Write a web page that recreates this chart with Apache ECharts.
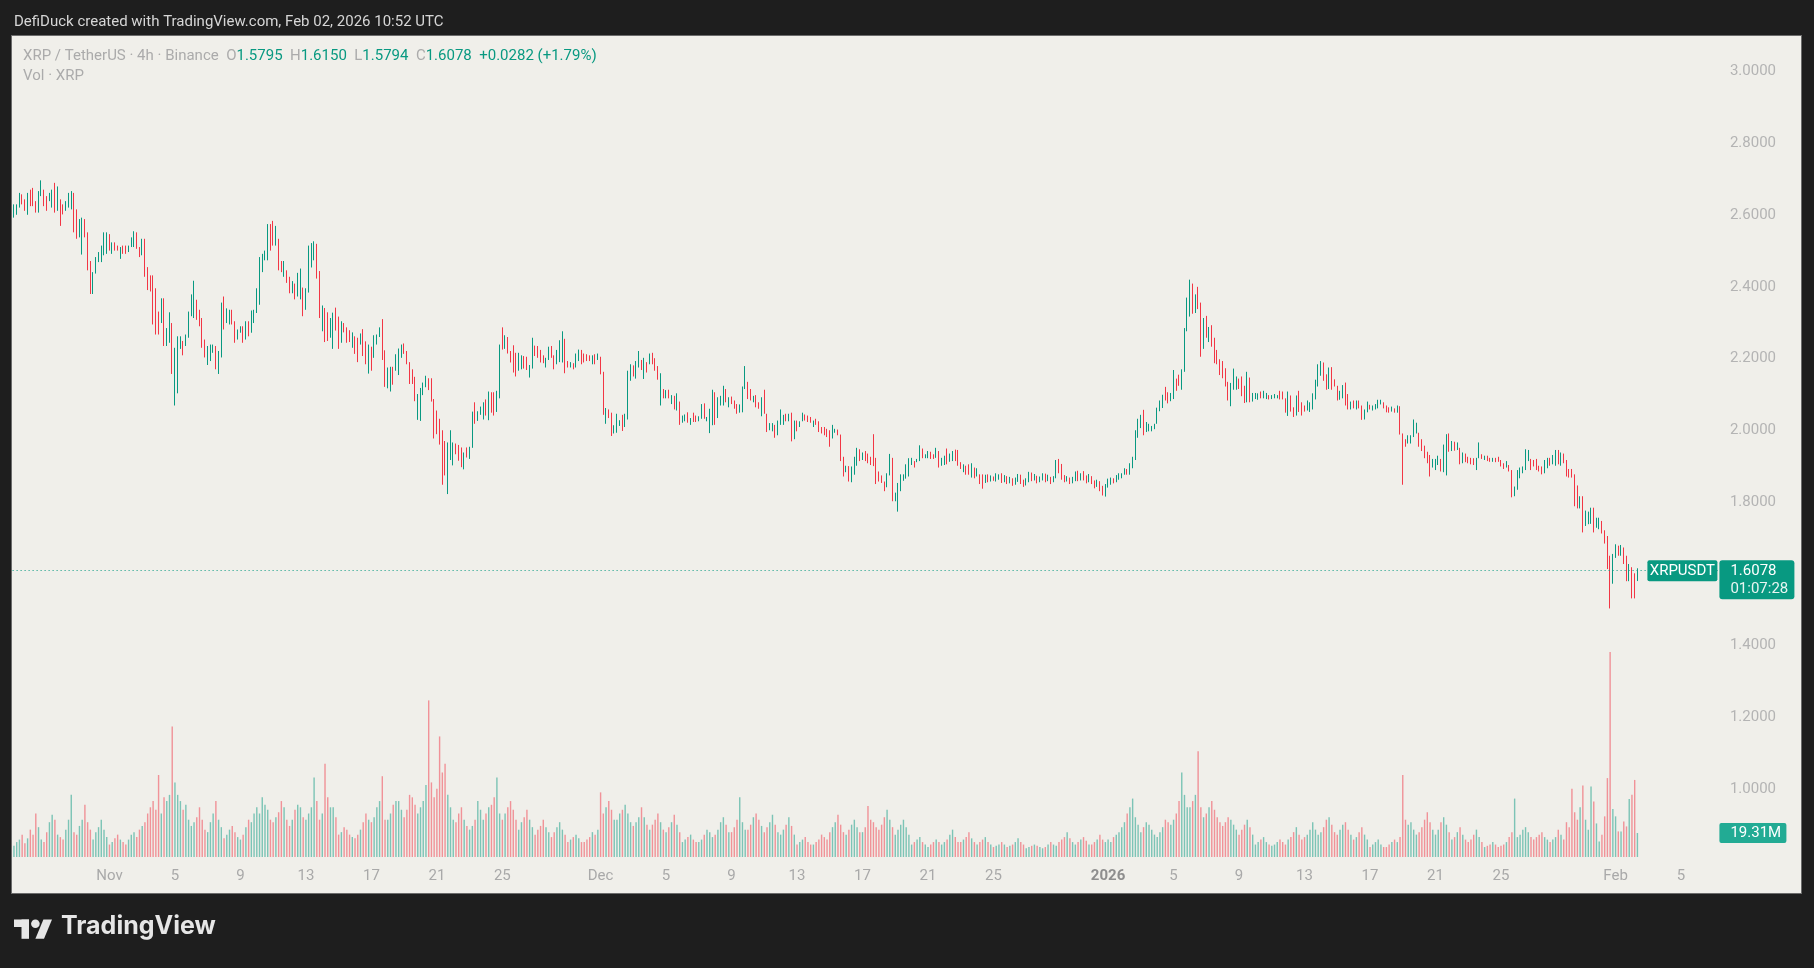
<!DOCTYPE html>
<html>
<head>
<meta charset="utf-8">
<title>XRP / TetherUS 4h</title>
<script src="https://cdn.jsdelivr.net/npm/echarts@6/dist/echarts.min.js"></script>
<style>
  html, body { margin: 0; padding: 0; background: #1e1e1e; }
  #frame { position: absolute; left: 11px; top: 35px; width: 1789px; height: 857px;
           background: #f0efea; border: 1px solid #6b6b6b; }
  #main { position: absolute; left: 0; top: 0; width: 1814px; height: 968px; }
</style>
</head>
<body>
<div id="frame"></div>
<div id="main"></div>
<script type="text/javascript">
// 4h bars, first one 2025-10-26 04:00 UTC
var firstBar = Date.UTC(2025, 9, 26, 4);
var slotCount = 625; // bars plus the empty space on the right

// bar lows / highs
var lows = [
  2.593,2.601,2.621,2.630,2.612,2.601,2.625,2.625,2.607,2.607, 2.653,2.625,2.612,2.639,2.621,2.607,2.612,2.570,2.602,2.612,
  2.621,2.616,2.552,2.534,2.538,2.490,2.538,2.446,2.380,2.380, 2.437,2.469,2.469,2.488,2.492,2.501,2.492,2.501,2.501,2.478,
  2.492,2.492,2.497,2.511,2.511,2.506,2.483,2.488,2.428,2.391, 2.387,2.295,2.267,2.267,2.299,2.235,2.235,2.244,2.157,2.069,
  2.103,2.227,2.209,2.235,2.258,2.318,2.313,2.308,2.290,2.230, 2.203,2.182,2.193,2.216,2.170,2.157,2.203,2.281,2.299,2.295,
  2.295,2.244,2.253,2.272,2.244,2.253,2.262,2.272,2.299,2.327, 2.350,2.441,2.474,2.474,2.501,2.515,2.515,2.446,2.441,2.428,
  2.411,2.382,2.382,2.365,2.373,2.365,2.318,2.336,2.384,2.454, 2.474,2.423,2.313,2.276,2.246,2.249,2.258,
  2.227,2.278,2.227,2.244,2.273,2.244,2.246,2.230,2.213,2.190, 2.239,2.207,2.184,2.158,2.166,2.202,2.239,2.260,2.196,2.121,
  2.117,2.108,2.127,2.166,2.154,2.202,2.213,2.184,2.129,2.129, 2.081,2.029,2.026,2.098,2.120,2.112,2.080,1.977,1.989,1.960,
  1.848,1.874,1.822,1.917,1.902,1.933,1.915,1.897,1.891,1.924, 1.920,1.951,2.018,2.026,2.043,2.030,2.041,2.028,2.049,2.041,
  2.051,2.089,2.225,2.227,2.214,2.189,2.161,2.150,2.166,2.170, 2.172,2.168,2.147,2.172,2.207,2.202,2.189,2.187,2.175,2.196,
  2.202,2.170,2.184,2.190,2.189,2.159,2.175,2.175,2.170,2.175, 2.193,2.184,2.189,2.193,2.193,2.184,2.184,2.196,2.156,2.043,
  2.018,2.034,1.984,1.991,1.993,2.012,1.998,2.009,2.030,2.138, 2.150,2.144,2.175,2.168,2.143,2.161,2.184,2.184,2.166,2.141,
  2.069,2.089,2.089,2.089,
  2.073,2.058,2.055,2.015,2.021,2.025,2.021,2.015,2.023,2.023, 2.025,2.032,2.032,2.025,1.992,2.014,2.015,2.034,2.069,2.069,
  2.078,2.064,2.073,2.060,2.046,2.049,2.050,2.115,2.087,2.083, 2.078,2.064,2.060,2.039,2.046,1.995,2.000,1.997,1.979,1.986,
  2.015,2.015,2.025,2.025,1.969,1.975,1.997,2.009,2.025,2.027, 2.023,2.021,2.009,2.015,1.995,1.991,1.986,1.981,1.954,1.977,
  1.993,1.986,1.914,1.871,1.883,1.857,1.855,1.876,1.901,1.914, 1.917,1.914,1.908,1.903,1.900,1.850,1.857,1.853,1.830,1.841,
  1.874,1.802,1.802,1.773,1.830,1.859,1.865,1.871,1.903,1.896, 1.911,1.914,1.922,1.922,1.922,1.920,1.920,1.923,1.896,1.901,
  1.903,1.905,1.912,1.914,1.914,1.901,1.892,1.883,1.876,1.876, 1.868,1.866,1.871,1.850,1.837,1.853,1.855,1.857,1.859,1.857,
  1.862,1.853,
  1.855,1.850,1.852,1.845,1.848,1.856,1.850,1.842,1.846,1.855, 1.858,1.860,1.852,1.855,1.860,1.855,1.858,1.850,1.855,1.866,
  1.880,1.862,1.855,1.857,1.850,1.852,1.858,1.858,1.860,1.860, 1.852,1.855,1.850,1.838,1.842,1.830,1.818,1.815,1.840,1.848,
  1.852,1.855,1.862,
  1.866,1.876,1.876,1.876,1.894,1.917,1.979,2.006,1.986,1.995, 1.997,1.997,2.003,2.018,2.053,2.062,2.083,2.075,2.081,2.087,
  2.110,2.124,2.113,2.163,2.276,2.317,2.325,2.327,2.338,2.205, 2.227,2.258,2.246,2.233,2.187,2.184,2.154,2.145,2.122,2.083,
  2.067,2.113,2.113,2.115,2.095,2.076,2.078,2.078,2.080,2.087, 2.085,2.089,2.089,2.087,2.086,2.087,2.089,2.089,2.086,2.086,
  2.049,2.040,2.052,2.037,2.041,2.051,2.041,2.052,2.055,2.051, 2.058,2.086,2.122,2.152,2.138,2.113,2.115,
  2.113,2.122,2.083,2.085,2.089,2.069,2.058,2.058,2.061,2.058, 2.061,2.029,2.030,2.050,2.058,2.055,2.058,2.061,2.072,2.061,
  2.050,2.049,2.052,2.049,2.049,1.988,1.848,1.954,1.963,1.963, 1.981,1.991,1.954,1.942,1.922,1.908,1.871,1.896,1.889,1.903,
  1.885,1.883,1.874,1.940,1.942,1.943,1.945,1.905,1.908,1.911, 1.908,1.905,1.903,1.889,1.922,1.920,1.917,1.914,1.912,1.912,
  1.911,1.912,1.899,1.892,1.896,1.885,1.813,1.816,1.834,1.866, 1.880,1.889,1.914,1.889,1.899,1.889,1.885,1.877,1.880,1.894,
  1.901,1.905,1.901,1.905,1.901,1.908,1.871,1.868,1.868,1.788,1.782, 1.782,1.715,1.733,1.738,1.739,1.715,1.728,1.724,1.712,1.684,
  1.613,1.503,1.572,1.644,1.650,1.650,1.627,1.579,1.579,1.531, 1.531,1.5794
];
var highs = [
  2.630,2.630,2.662,2.658,2.644,2.662,2.671,2.676,2.639,2.667, 2.697,2.671,2.653,2.662,2.671,2.690,2.680,2.644,2.630,2.639,
  2.662,2.667,2.662,2.616,2.589,2.593,2.589,2.552,2.472,2.441, 2.483,2.497,2.515,2.552,2.552,2.547,2.524,2.524,2.515,2.511,
  2.515,2.515,2.515,2.538,2.555,2.552,2.511,2.534,2.534,2.455, 2.432,2.432,2.396,2.331,2.368,2.368,2.285,2.329,2.299,2.230,
  2.262,2.262,2.249,2.267,2.331,2.379,2.417,2.364,2.336,2.313, 2.253,2.235,2.239,2.239,2.235,2.221,2.356,2.373,2.340,2.336,
  2.336,2.304,2.281,2.290,2.290,2.304,2.304,2.334,2.336,2.396, 2.483,2.492,2.501,2.575,2.575,2.584,2.570,2.534,2.472,2.472,
  2.446,2.428,2.416,2.409,2.439,2.451,2.398,2.396,2.515,2.522, 2.527,2.520,2.444,2.348,2.341,2.329,2.313,
  2.328,2.342,2.317,2.304,2.299,2.287,2.279,2.273,2.262,2.258, 2.270,2.282,2.248,2.239,2.233,2.265,2.267,2.287,2.310,2.223,
  2.175,2.177,2.177,2.212,2.228,2.239,2.242,2.221,2.190,2.170, 2.149,2.101,2.118,2.133,2.152,2.145,2.145,2.087,2.055,2.032,
  2.000,1.970,1.966,2.000,1.966,1.963,1.959,1.952,1.938,1.952, 1.954,2.052,2.078,2.053,2.066,2.078,2.086,2.108,2.106,2.106,
  2.110,2.239,2.287,2.265,2.260,2.221,2.237,2.216,2.216,2.209, 2.207,2.205,2.182,2.258,2.236,2.235,2.224,2.209,2.202,2.233,
  2.235,2.209,2.224,2.251,2.276,2.255,2.193,2.190,2.187,2.214, 2.225,2.224,2.214,2.212,2.209,2.209,2.212,2.214,2.205,2.163,
  2.062,2.058,2.049,2.014,2.046,2.028,2.043,2.046,2.166,2.184, 2.181,2.193,2.221,2.196,2.202,2.190,2.214,2.216,2.201,2.179,
  2.159,2.115,2.112,2.113,
  2.098,2.096,2.103,2.080,2.041,2.044,2.050,2.034,2.049,2.041, 2.039,2.073,2.075,2.037,2.060,2.113,2.106,2.092,2.096,2.124,
  2.115,2.092,2.094,2.083,2.073,2.072,2.122,2.179,2.135,2.115, 2.096,2.098,2.078,2.092,2.113,2.046,2.020,2.020,2.015,2.027,
  2.058,2.043,2.046,2.046,2.049,2.027,2.027,2.025,2.049,2.044, 2.041,2.037,2.027,2.032,2.025,2.009,2.009,2.004,2.000,2.015,
  2.004,2.002,1.988,1.926,1.901,1.900,1.899,1.926,1.951,1.947, 1.938,1.942,1.935,1.926,1.989,1.923,1.885,1.874,1.857,1.880,
  1.934,1.923,1.826,1.853,1.877,1.877,1.905,1.922,1.923,1.914, 1.920,1.958,1.949,1.933,1.942,1.940,1.933,1.951,1.942,1.923,
  1.929,1.949,1.935,1.942,1.946,1.945,1.911,1.905,1.901,1.905, 1.908,1.896,1.894,1.877,1.877,1.876,1.877,1.874,1.871,1.880,
  1.877,1.880,
  1.875,1.872,1.870,1.866,1.868,1.878,1.876,1.862,1.866,1.884, 1.882,1.878,1.873,1.871,1.880,1.879,1.876,1.870,1.872,1.917,
  1.920,1.906,1.875,1.872,1.868,1.870,1.885,1.887,1.880,1.886, 1.874,1.878,1.872,1.860,1.862,1.858,1.845,1.850,1.865,1.868,
  1.866,1.875,1.880,
  1.880,1.894,1.892,1.908,1.926,2.000,2.032,2.043,2.057,2.023, 2.018,2.012,2.018,2.063,2.083,2.099,2.121,2.106,2.104,2.168,
  2.144,2.155,2.170,2.285,2.370,2.420,2.409,2.379,2.400,2.356, 2.313,2.319,2.288,2.293,2.258,2.224,2.198,2.193,2.173,2.135,
  2.132,2.172,2.150,2.144,2.150,2.124,2.163,2.147,2.104,2.104, 2.103,2.108,2.110,2.104,2.098,2.098,2.101,2.098,2.110,2.108,
  2.089,2.108,2.097,2.064,2.097,2.110,2.078,2.069,2.083,2.078, 2.103,2.141,2.184,2.193,2.189,2.156,2.175,
  2.176,2.142,2.124,2.110,2.126,2.133,2.101,2.080,2.083,2.083, 2.083,2.069,2.058,2.080,2.071,2.069,2.073,2.085,2.085,2.078,
  2.069,2.064,2.066,2.061,2.069,2.067,1.991,1.975,1.986,1.986, 2.030,2.021,1.993,1.975,1.957,1.940,1.931,1.920,1.920,1.929,
  1.920,1.960,1.989,1.991,1.970,1.968,1.966,1.951,1.938,1.935, 1.926,1.923,1.922,1.923,1.966,1.933,1.929,1.929,1.923,1.923,
  1.923,1.926,1.917,1.908,1.914,1.903,1.889,1.843,1.889,1.896, 1.899,1.947,1.945,1.920,1.917,1.920,1.901,1.899,1.917,1.923,
  1.923,1.931,1.945,1.945,1.938,1.935,1.917,1.892,1.892,1.877,1.846, 1.816,1.816,1.776,1.773,1.784,1.784,1.756,1.756,1.747,1.721,
  1.705,1.650,1.655,1.682,1.678,1.680,1.673,1.650,1.627,1.618, 1.601,1.6150
];
// g = closed up (teal), r = closed down (red)
var dirs =
  'gggrrgrrrg' + 'grrggrgrrg' + 'ggrrggrrrg' + 'gggggrgrrg' + 'rrgggrrgrr' + 'rrrrgrggrg' +
  'ggrggggrrr' + 'rgggrggrgg' + 'rrggrgrggg' + 'ggggrrgrrg' + 'rrgrggrggg' + 'grrgrrg' +
  'grrgrrrgrr' + 'grrgrgggrr' + 'ggrgggrrrr' + 'rggggrrrrr' + 'rrgggrrrgr' + 'ggrgggrgrr' +
  'ggrgrrrrgg' + 'rrggrrrrgg' + 'rrgggrrgrg' + 'grrrrgrgrr' + 'grrgggrggg' + 'rggrgrgrrr' + 'grgr' +
  'grgrggrgrr' + 'ggrgggrggg' + 'rgrrrgggrr' + 'grrgrrggrg' + 'ggrgrgrggr' + 'rrgrrrrrrg' +
  'grrrgrgggr' + 'grrrrrrrrg' + 'grgggggggr' + 'ggrggrrgrg' + 'grggrrrgrr' + 'grgrrgrgrg' + 'gr' +
  'grgrggrrgg' + 'rgrggrgrgg' + 'rrrgrggrgr' + 'rgrrgrrggg' + 'rgg' +
  'ggrgggggrg' + 'ggggggrrgg' + 'rrggggrgrr' + 'grgrrrrrrr' + 'gggrrrgrgg' + 'grggrgggrr' + 'rgrrgrrrgg' + 'ggggrrg' +
  'rrrggrrgrg' + 'rrggrggggr' + 'rrgrgrrrgg' + 'ggrrrrrggg' + 'rggrgrgrgr' + 'rrrggrgrrg' +
  'rrrrgrrggg' + 'gggrrrrrgg' + 'rggrgrrrrrr' + 'grgggrggrr' + 'rrggrgrrgr' + 'rg';

// volume in millions XRP, one row per day
var volumes = [
  9, 12, 14, 18, 11,
  15, 22, 18, 35, 24, 14,   12, 20, 28, 34, 30, 18,   16, 14, 22, 30, 50, 20,
  18, 25, 30, 42, 28, 22,   14, 20, 24, 30, 22, 16,
  10, 12, 15, 18, 14, 12,   10, 14, 18, 20, 16, 22,   25, 28, 35, 40, 45, 38,
  66, 35, 48, 45, 50, 105,  60, 50, 45, 38, 42, 30,   25, 28, 32, 40, 30, 22,
  20, 28, 35, 45, 30, 24,   15, 18, 22, 25, 20, 16,   14, 18, 24, 30, 28, 35,
  40, 35, 48, 42, 38, 30,   28, 32, 36, 45, 40, 30,   25, 30, 38, 42, 40, 32,
  30, 35, 40, 64, 45, 30,   35, 75, 48, 40, 40, 32,   18, 20, 24, 22, 18, 16,
  15, 18, 22, 28, 35, 30,   28, 32, 40, 45, 65, 30,   30, 35, 42, 45, 45, 38,
  32, 38, 50, 48, 42, 35,   40, 45, 58, 126, 60, 48,  55, 97, 68, 75, 50, 40,
  30, 28, 35, 40, 30, 25,   22, 25, 30, 45, 38, 30,   35, 40, 42, 48, 64, 35,
  30, 35, 40, 45, 38, 30,   22, 28, 32, 38, 30, 24,   18, 22, 25, 30, 24, 20,
  16, 20, 24, 28, 22, 18,   12, 14, 16, 18, 15, 12,   12, 14, 16, 20, 18, 22,
  52, 35, 40, 45, 38, 30,   30, 35, 38, 42, 35, 28,   25, 28, 32, 40, 32, 26,
  22, 26, 30, 35, 28, 22,   20, 24, 28, 34, 26, 20,   12, 14, 16, 18, 14, 12,
  12, 14, 18, 22, 20, 16,   18, 22, 28, 32, 26, 20,   20, 24, 30, 48, 28, 22,
  22, 26, 32, 35, 30, 25,   20, 24, 28, 34, 26, 20,   18, 22, 26, 32, 25, 18,
  10, 12, 14, 16, 12, 10,   10, 12, 14, 18, 16, 14,   20, 24, 28, 34, 26, 20,
  18, 22, 26, 30, 24, 20,   20, 24, 41, 30, 28, 24,   22, 26, 32, 38, 30, 24,
  18, 22, 26, 30, 24, 18,   10, 12, 14, 16, 12, 10,   8, 10, 12, 14, 12, 10,
  12, 14, 18, 22, 16, 12,   12, 14, 16, 20, 15, 12,   10, 12, 14, 16, 12, 10,
  8, 9, 10, 12, 10, 8,      9, 10, 12, 15, 12, 10,    7, 8, 9, 10, 9, 8,
  7, 8, 10, 12, 10, 9,      12, 14, 16, 20, 15, 12,   10, 12, 14, 16, 13, 10,
  10, 12, 14, 18, 14, 12,
  14, 12, 16, 18, 20, 24,   28, 35, 40, 47, 32, 26,   20, 24, 28, 26, 22, 18,
  16, 20, 24, 30, 28, 26,   30, 35, 45, 68, 50, 40,   40, 45, 50, 85, 40, 32,
  35, 40, 45, 38, 32, 28,   25, 28, 32, 30, 26, 22,   18, 22, 26, 30, 24, 18,
  10, 12, 14, 16, 12, 10,   9, 10, 12, 14, 12, 10,    14, 16, 20, 24, 18, 14,
  16, 18, 22, 28, 22, 18,   20, 24, 30, 32, 26, 20,   18, 22, 26, 28, 22, 18,
  14, 16, 20, 24, 18, 14,   8, 10, 12, 14, 10, 8,     8, 10, 12, 14, 12, 16,
  66, 30, 26, 28, 22, 18,   20, 24, 30, 36, 28, 22,   18, 22, 28, 32, 26, 20,
  14, 16, 20, 24, 18, 14,   12, 14, 18, 22, 16, 12,   8, 9, 10, 12, 10, 8,
  9, 10, 12, 16, 20, 47,    16, 18, 22, 24, 20, 16,   14, 16, 18, 20, 16, 14,
  12, 14, 16, 22, 18, 14,   28, 24, 55, 36, 30, 40,   57.6, 30, 22, 56.8, 44.7, 27,
  12.5, 18, 32.7, 63.5, 165, 38.6,
  32.7, 20.6, 20.6, 28.6, 24.6, 46.7,
  50, 62, 19.31
];

var lastBar = { o: 1.5795, h: 1.6150, l: 1.5794, c: 1.6078 };
var lastChange = '+0.0282 (+1.79%)';
var countdown = '01:07:28';
var dayTicks = [1, 5, 9, 13, 17, 21, 25];
var monthNames = ['Jan', 'Feb', 'Mar', 'Apr', 'May', 'Jun', 'Jul', 'Aug', 'Sep', 'Oct', 'Nov', 'Dec'];
var priceMin = 0.8, priceMax = 3.2, priceStep = 0.2;
var volMax = 175;

var UP = '#089981', DOWN = '#f23645';
var FONT = 'Roboto, "Noto Sans", sans-serif';

function slotDate(i) { return new Date(firstBar + i * 4 * 3600 * 1000); }

var slots = [];
for (var s = 0; s < slotCount; s++) slots.push(String(s));

var lastIdx = lows.length - 1;
var candles = lows.map(function (l, i) {
  if (i === lastIdx) return [lastBar.o, lastBar.c, lastBar.l, lastBar.h];
  var h = highs[i];
  return dirs[i] === 'g' ? [l, h, l, h] : [h, l, l, h];
});
var volData = volumes.map(function (v, i) {
  return { value: v, itemStyle: { color: dirs[i] === 'g' ? 'rgba(8,153,129,0.5)' : 'rgba(242,54,69,0.5)' } };
});

var chart = echarts.init(document.getElementById('main'), null, { renderer: 'canvas' });

var gridLeft = 12.6, gridRight = 96.1;
var option = {
  backgroundColor: 'transparent',
  animation: false,
  textStyle: { fontFamily: FONT },
  grid: [
    { left: gridLeft, right: gridRight, top: -10, bottom: 107.5 },
    { left: gridLeft, right: gridRight, top: 639.5, bottom: 111 }
  ],
  xAxis: [
    {
      type: 'category', gridIndex: 0, data: slots, boundaryGap: true,
      axisLine: { show: false }, axisTick: { show: false }, splitLine: { show: false },
      axisLabel: {
        margin: 8, color: '#a9a9a9', fontSize: 15, fontFamily: FONT,
        interval: function (i) {
          var d = slotDate(i);
          return d.getUTCHours() === 0 && dayTicks.indexOf(d.getUTCDate()) >= 0;
        },
        formatter: function (v) {
          var d = slotDate(+v);
          if (d.getUTCDate() === 1) {
            return d.getUTCMonth() === 0 ? '{y|' + d.getUTCFullYear() + '}' : monthNames[d.getUTCMonth()];
          }
          return String(d.getUTCDate());
        },
        rich: { y: { fontWeight: 'bold', color: '#8e8e8e', fontSize: 15, fontFamily: FONT } }
      }
    },
    {
      type: 'category', gridIndex: 1, data: slots, boundaryGap: true, show: false
    }
  ],
  yAxis: [
    {
      type: 'value', gridIndex: 0, position: 'right', min: priceMin, max: priceMax, interval: priceStep,
      splitLine: { show: false }, axisLine: { show: false }, axisTick: { show: false },
      axisLabel: {
        margin: 12, color: '#b4b4b4', fontSize: 15, fontFamily: FONT,
        showMinLabel: false, showMaxLabel: false,
        formatter: function (v) {
          if (Math.abs(v - 1.6) < 1e-6) return '';
          return v.toFixed(4);
        }
      }
    },
    { type: 'value', gridIndex: 1, min: 0, max: volMax, show: false }
  ],
  series: [
    {
      type: 'candlestick', xAxisIndex: 0, yAxisIndex: 0, data: candles,
      barWidth: 1.3, large: false, z: 3,
      itemStyle: { color: UP, color0: DOWN, borderColor: UP, borderColor0: DOWN, borderWidth: 1 },
      markLine: {
        silent: true, symbol: ['none', 'none'], animation: false,
        label: { show: false },
        lineStyle: { color: UP, type: [1, 3], width: 1 },
        data: [{ yAxis: lastBar.c }]
      }
    },
    {
      type: 'bar', xAxisIndex: 1, yAxisIndex: 1, data: volData, barWidth: 1.4, z: 2
    }
  ]
};
chart.setOption(option);

var py = chart.convertToPixel({ xAxisIndex: 0, yAxisIndex: 0 }, [lastIdx, lastBar.c])[1];
var vy = chart.convertToPixel({ xAxisIndex: 1, yAxisIndex: 1 }, [lastIdx, volumes[lastIdx]])[1];
var axisX = 1814 - gridRight;

var legendText =
  '{g|XRP / TetherUS · 4h · Binance}  {g|O}{v|' + lastBar.o.toFixed(4) + '}  {g|H}{v|' + lastBar.h.toFixed(4) +
  '}  {g|L}{v|' + lastBar.l.toFixed(4) + '}  {g|C}{v|' + lastBar.c.toFixed(4) + '}  {v|' + lastChange + '}';

chart.setOption({
  graphic: [
    { type: 'text', left: 14, top: 14.5, style: { text: 'DefiDuck created with TradingView.com, Feb 02, 2026 10:52 UTC', fill: '#d6d6d6', font: '15px ' + FONT } },
    { type: 'text', left: 23, top: 48.5, style: { text: legendText, font: '15px ' + FONT,
        rich: { g: { fill: '#ababab', font: '15px ' + FONT }, v: { fill: UP, font: '15px ' + FONT } } } },
    { type: 'text', left: 23, top: 68.5, style: { text: 'Vol · XRP', fill: '#ababab', font: '15px ' + FONT } },

    { type: 'rect', shape: { x: axisX - 70.5, y: py - 10.5, width: 70, height: 21, r: 2 }, style: { fill: UP }, z: 10 },
    { type: 'text', x: axisX - 35.5, y: py, style: { text: 'XRPUSDT', fill: '#ffffff', font: '15px ' + FONT, align: 'center', verticalAlign: 'middle' }, z: 11 },
    { type: 'rect', shape: { x: axisX + 1.5, y: py - 10.5, width: 75, height: 39, r: 3 }, style: { fill: UP }, z: 10 },
    { type: 'text', x: axisX + 12.5, y: py, style: { text: lastBar.c.toFixed(4), fill: '#ffffff', font: '15px ' + FONT, verticalAlign: 'middle' }, z: 11 },
    { type: 'text', x: axisX + 12.5, y: py + 18, style: { text: countdown, fill: '#e8f5f2', font: '15px ' + FONT, verticalAlign: 'middle' }, z: 11 },

    { type: 'rect', shape: { x: axisX + 1.5, y: vy - 10, width: 67, height: 20, r: 2 }, style: { fill: '#22ab94' }, z: 10 },
    { type: 'text', x: axisX + 12.5, y: vy, style: { text: volumes[lastIdx].toFixed(2) + 'M', fill: '#ffffff', font: '15px ' + FONT, verticalAlign: 'middle' }, z: 11 },

    { type: 'rect', shape: { x: 14, y: 919.5, width: 15, height: 7.5 }, style: { fill: '#e6e6e6' } },
    { type: 'rect', shape: { x: 21.5, y: 919.5, width: 7.5, height: 19.3 }, style: { fill: '#e6e6e6' } },
    { type: 'circle', shape: { cx: 35.4, cy: 923.8, r: 4.3 }, style: { fill: '#e6e6e6' } },
    { type: 'polygon', shape: { points: [[43.4, 919.5], [52, 919.5], [44, 938.8], [35.4, 938.8]] }, style: { fill: '#e6e6e6' } },
    { type: 'text', left: 61, top: 914, style: { text: 'TradingView', fill: '#e6e6e6', font: 'bold 25px Inter, Roboto, sans-serif' } }
  ]
});
</script>
</body>
</html>
